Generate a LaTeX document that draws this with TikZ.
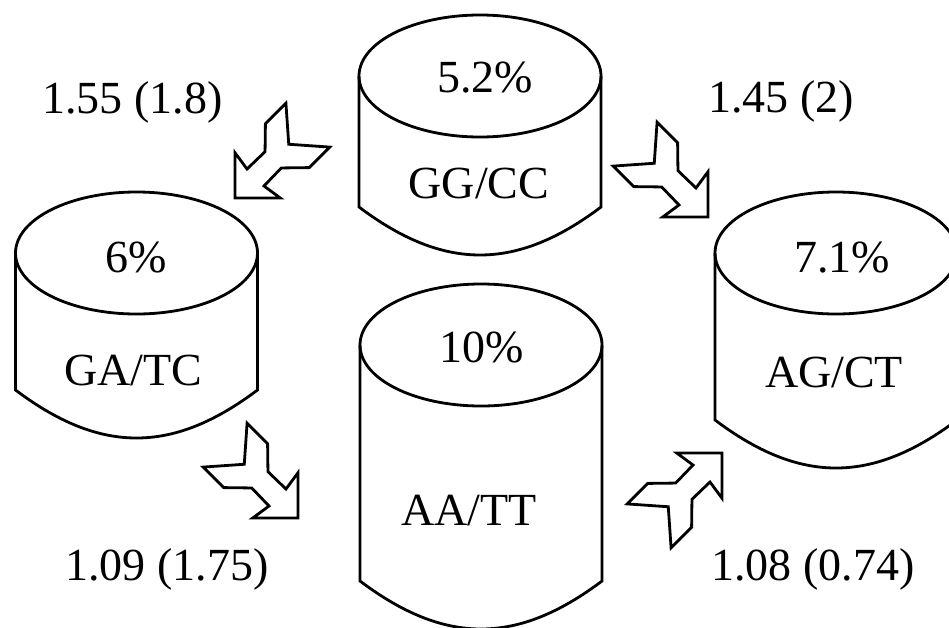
\documentclass[tikz,border=0pt]{standalone}
\usepackage{fontspec}
\setmainfont{Liberation Serif}
\tikzset{
  ink/.style={draw=black, line width=2.8pt, line join=miter},
  lbl/.style={inner sep=0pt, anchor=base, font=\fontsize{46}{55}\selectfont},
  pics/drum/.style={code={
    \coordinate (-c) at (0,0);
    \draw[ink] (0,0) ellipse [x radius=121, y radius=61];
    \draw[ink] (-121,0) -- (-121,#1) .. controls (-36,#1+64) and (36,#1+64) .. (121,#1) -- (121,0);
  }},
  pics/fletch/.style={code={
    \coordinate (-tip) at (0,0);
    \draw[ink, fill=white] (0,0) -- (-32,32) -- (-29,12) -- (-54,11.5) -- (-74,31) -- (-103,31)
      -- (-76,0) -- (-103,-31) -- (-74,-31) -- (-54,-11.5) -- (-29,-12) -- (-32,-32) -- cycle;
  }}
}
\begin{document}
\begin{tikzpicture}[x=1pt, y=-1pt]
\useasboundingbox (0,0) rectangle (949,627);
\clip (0,0) rectangle (949,627);
\fill[white] (0,0) rectangle (949,627);
% cylinders
\pic (gg) at (480,76) {drum=131};
\pic (ga) at (136.5,253) {drum=137};
\pic (aa) at (481,345) {drum=236};
\pic (ag) at (836,253) {drum=167};
% texts
\node[lbl] (ggp) at (485,92) {5.2\%};
\node[lbl] (ggn) at (479,198) {GG/CC};
\node[lbl] (gap) at (136,272) {6\%};
\node[lbl] (gan) at (133,385) {GA/TC};
\node[lbl] (aap) at (482,362) {10\%};
\node[lbl] (aan) at (469,525) {AA/TT};
\node[lbl] (agp) at (842,272) {7.1\%};
\node[lbl] (agn) at (834,387) {AG/CT};
% arrows
\pic[rotate=225] (a1) at (235,198) {fletch};
\pic[rotate=-45] (a2) at (708,217) {fletch};
\pic[rotate=-45] (a3) at (298,518) {fletch};
\pic[rotate=45] (a4) at (722,453) {fletch};
% rate labels
\node[lbl] (r1) at (132.5,113) {1.55 (1.8)};
\node[lbl] (r2) at (781,112) {1.45 (2)};
\node[lbl] (r3) at (167,580) {1.09 (1.75)};
\node[lbl] (r4) at (813,580) {1.08 (0.74)};
\end{tikzpicture}
\end{document}
